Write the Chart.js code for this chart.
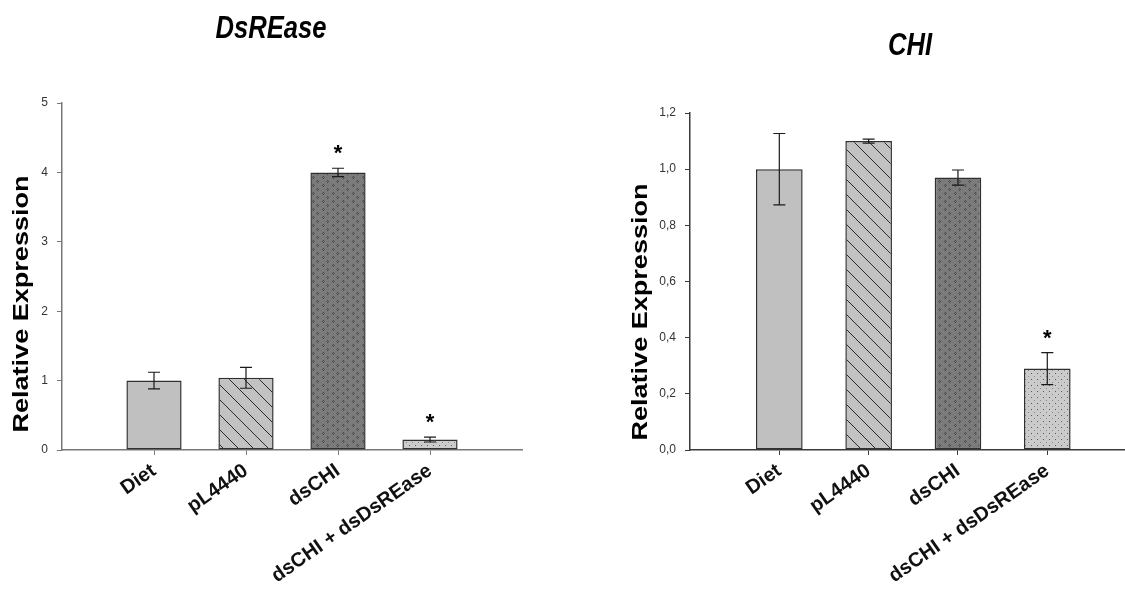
<!DOCTYPE html>
<html lang="en">
<head>
<meta charset="UTF-8">
<title>DsREase / CHI relative expression</title>
<script src="https://cdn.jsdelivr.net/npm/chart.js@4"></script>
<style>
  body { margin: 0; background: #fff; }
  .panel { position: absolute; top: 0; height: 590px; }
  #left { left: 0; width: 562px; }
  #right { left: 562px; width: 563px; }
</style>
</head>
<body>
<div class="panel" id="left"><canvas id="dsreaseChart"></canvas></div>
<div class="panel" id="right"><canvas id="chiChart"></canvas></div>
<script>
const categories = ['Diet', 'pL4440', 'dsCHI', 'dsCHI + dsDsREase'];

const dsreaseMean = [1.00, 1.04, 4.00, 0.15];
const dsreaseErr = [0.12, 0.15, 0.06, 0.035];
const dsreaseStar = [false, false, true, true];
const dsreaseTicks = ['0', '1', '2', '3', '4', '5'];

const chiMean = [1.00, 1.10, 0.97, 0.29];
const chiErr = [0.127, 0.007, 0.027, 0.057];
const chiStar = [false, false, false, true];
const chiTicks = ['0,0', '0,2', '0,4', '0,6', '0,8', '1,0', '1,2'];

// fill patterns for the four treatments
const pctx = document.createElement('canvas').getContext('2d');
function tile(w, h, bg, paint) {
    const c = document.createElement('canvas');
    c.width = w; c.height = h;
    const g = c.getContext('2d');
    g.fillStyle = bg;
    g.fillRect(0, 0, w, h);
    paint(g);
    return pctx.createPattern(c, 'repeat');
}
const plainFill = '#c0c0c0';
const hatchFill = tile(15, 15, '#c2c2c2', g => {
    g.strokeStyle = '#2a2a2a';
    g.lineWidth = 1;
    [-15, 0, 15].forEach(o => {
        g.beginPath();
        g.moveTo(o - 2, -2);
        g.lineTo(o + 17, 17);
        g.stroke();
    });
});
const chevronFill = tile(10, 8, '#7b7b7b', g => {
    g.fillStyle = '#454545';
    [[3, 0], [2, 1], [3, 2], [7, 4], [8, 5], [7, 6]].forEach(p => g.fillRect(p[0], p[1], 1, 1));
    g.fillStyle = '#5e5e5e';
    [[4, 1], [6, 5]].forEach(p => g.fillRect(p[0], p[1], 1, 1));
});
const dotFill = tile(6, 6, '#cbcbcb', g => {
    g.fillStyle = '#5a5a5a';
    g.fillRect(1, 1, 1, 1);
    g.fillStyle = '#8a8a8a';
    g.fillRect(4, 4, 1, 1);
});
const fills = [plainFill, hatchFill, chevronFill, dotFill];

// error bars and significance stars on top of the bars
const errorBars = {
    id: 'errorBars',
    afterDatasetsDraw(chart, args, opts) {
        const ctx = chart.ctx;
        const y = chart.scales.y;
        const meta = chart.getDatasetMeta(0);
        ctx.save();
        ctx.strokeStyle = '#1a1a1a';
        ctx.lineWidth = 1.2;
        ctx.fillStyle = '#000';
        ctx.font = 'bold 22px "Liberation Sans", Arial, sans-serif';
        ctx.textAlign = 'center';
        ctx.textBaseline = 'alphabetic';
        meta.data.forEach((bar, i) => {
            const top = y.getPixelForValue(opts.mean[i] + opts.err[i]);
            const bot = y.getPixelForValue(opts.mean[i] - opts.err[i]);
            ctx.beginPath();
            ctx.moveTo(bar.x, top); ctx.lineTo(bar.x, bot);
            ctx.moveTo(bar.x - 6, top); ctx.lineTo(bar.x + 6, top);
            ctx.moveTo(bar.x - 6, bot); ctx.lineTo(bar.x + 6, bot);
            ctx.stroke();
            if (opts.star[i]) ctx.fillText('*', bar.x, top - 8);
        });
        ctx.restore();
    }
};

// panel title (narrow italic) and stretched y axis title
const panelText = {
    id: 'panelText',
    afterDraw(chart, args, opts) {
        const ctx = chart.ctx;
        ctx.save();
        ctx.fillStyle = '#000';
        ctx.textAlign = 'center';
        ctx.textBaseline = 'alphabetic';
        ctx.font = 'italic bold 32px "Liberation Sans", Arial, sans-serif';
        ctx.translate(opts.titleX, opts.titleY);
        ctx.scale(0.8, 1);
        ctx.fillText(opts.title, 0, 0);
        ctx.restore();

        ctx.save();
        ctx.fillStyle = '#000';
        ctx.textAlign = 'center';
        ctx.textBaseline = 'middle';
        ctx.font = 'bold 22px "Liberation Sans", Arial, sans-serif';
        ctx.translate(opts.axisX, opts.axisY);
        ctx.rotate(-Math.PI / 2);
        ctx.scale(1.23, 1);
        ctx.fillText('Relative Expression', 0, 0);
        ctx.restore();
    }
};

function makeChart(id, mean, err, star, tickLabels, yMax, yStep, xMax, axisColor, yWidth, pad, text) {
    return new Chart(document.getElementById(id), {
        type: 'bar',
        data: {
            datasets: [{
                data: mean.map((v, i) => ({ x: i, y: v })),
                backgroundColor: fills,
                borderColor: '#303030',
                borderWidth: 1.5,
                borderSkipped: false,
                barPercentage: 0.6,
                categoryPercentage: 1
            }]
        },
        options: {
            responsive: true,
            maintainAspectRatio: false,
            animation: false,
            layout: { padding: pad },
            plugins: {
                legend: { display: false },
                tooltip: { enabled: false },
                errorBars: { mean: mean, err: err, star: star },
                panelText: text
            },
            scales: {
                x: {
                    type: 'linear',
                    offset: false,
                    min: -1,
                    max: xMax,
                    afterFit: s => {
                        s.height = 140;
                        s.paddingLeft = 0;
                        s.paddingRight = 0;
                    },
                    border: { color: axisColor, width: 1.5 },
                    grid: {
                        drawOnChartArea: false,
                        offset: false,
                        tickLength: 5,
                        color: c => categories[c.tick && c.tick.value] !== undefined ? axisColor : 'rgba(0,0,0,0)'
                    },
                    ticks: {
                        stepSize: 1,
                        autoSkip: false,
                        minRotation: 35,
                        maxRotation: 35,
                        padding: 4,
                        color: '#111',
                        font: { family: '"Liberation Sans", Arial, sans-serif', size: 20, weight: 'bold' },
                        callback: v => categories[v] !== undefined ? categories[v] : ''
                    }
                },
                y: {
                    min: 0,
                    max: yMax,
                    afterFit: s => { s.width = yWidth; },
                    border: { color: axisColor, width: 1.5 },
                    grid: { drawOnChartArea: false, tickLength: 5, color: axisColor },
                    ticks: {
                        stepSize: yStep,
                        padding: 9,
                        color: '#333',
                        font: { family: '"Liberation Sans", Arial, sans-serif', size: 12 },
                        callback: (v, i) => tickLabels[i]
                    }
                }
            }
        },
        plugins: [errorBars, panelText]
    });
}

makeChart('dsreaseChart', dsreaseMean, dsreaseErr, dsreaseStar, dsreaseTicks, 5, 1, 4, '#787878', 62,
    { top: 103, right: 40, left: 0, bottom: 0 },
    { title: 'DsREase', titleX: 271, titleY: 38, axisX: 22, axisY: 304 });

makeChart('chiChart', chiMean, chiErr, chiStar, chiTicks, 1.2, 0.2, 3.87, '#3a3a3a', 128,
    { top: 113, right: 0, left: 0, bottom: 0 },
    { title: 'CHI', titleX: 348, titleY: 55, axisX: 79, axisY: 312 });
</script>
</body>
</html>
